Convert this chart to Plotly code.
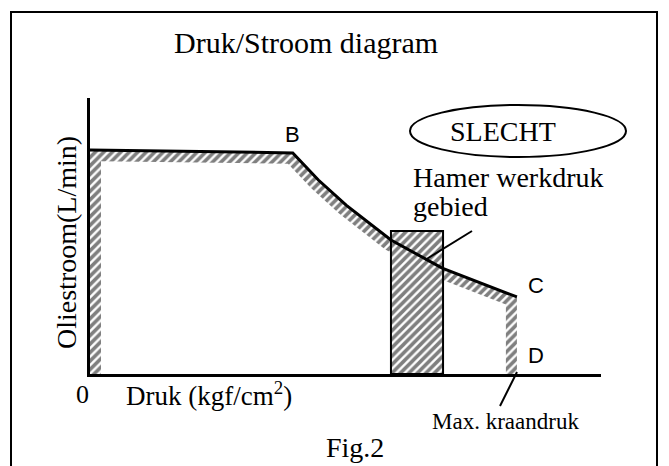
import numpy as np
import plotly.graph_objects as go

W, H = 669, 466

# Oil flow against pressure, both as a share of the maximum (A -> B -> C)
druk = [0.0, 47.5, 53.5, 60.0, 70.5, 82.5, 100.0]
stroom = [100.0, 98.7, 86.6, 75.4, 59.8, 47.3, 34.4]

# Working-pressure window of the hammer
hamer_druk = [70.5, 82.7]
hamer_stroom = 63.8

# Maximum crane pressure (point D on the pressure axis)
max_druk = 100.0

x_range = [0.0, 119.7]
y_range = [0.0, 123.2]

# plot area in page pixels (left, right, top, bottom)
PL, PR, PT, PB = 90, 601, 98, 374
sx = (PR - PL) / (x_range[1] - x_range[0])
sy = (PB - PT) / (y_range[1] - y_range[0])


def px(x, y):
    """page pixel -> paper coordinates"""
    return x / W, 1 - y / H


def inner_edge(xs, ys, t):
    """Offset an open polyline t pixels to its right-hand side (mitred)."""
    P = np.column_stack([np.asarray(xs) * sx, np.asarray(ys) * sy])
    segs = []
    for i in range(len(P) - 1):
        d = P[i + 1] - P[i]
        L = np.linalg.norm(d)
        d = d / L
        nrm = np.array([d[1], -d[0]])
        segs.append((P[i] + nrm * t, d, L))
    pts = [segs[0][0]]
    for (p1, d1, _), (p2, d2, _) in zip(segs[:-1], segs[1:]):
        a, _b = np.linalg.solve(np.array([d1, -d2]).T, p2 - p1)
        pts.append(p1 + a * d1)
    p, d, L = segs[-1]
    pts.append(p + d * L)
    pts = np.array(pts)
    return pts[:, 0] / sx, pts[:, 1] / sy


# hatched band under the flow curve, including the two vertical legs
outer_x = [0.0] + druk + [max_druk]
outer_y = [0.0] + stroom + [0.0]
in_x, in_y = inner_edge(outer_x, outer_y, 11)
band_x = list(outer_x) + list(in_x[::-1]) + [outer_x[0]]
band_y = list(outer_y) + list(in_y[::-1]) + [outer_y[0]]

hatch = dict(shape="/", fgcolor="black", bgcolor="white", size=6, solidity=0.6)

fig = go.Figure()
fig.add_trace(go.Scatter(
    x=band_x, y=band_y, mode="lines", fill="toself",
    fillpattern=hatch, line=dict(width=0, color="rgba(0,0,0,0)"),
    hoverinfo="skip", showlegend=False))

fig.add_trace(go.Scatter(
    x=[hamer_druk[0], hamer_druk[1], hamer_druk[1], hamer_druk[0], hamer_druk[0]],
    y=[0, 0, hamer_stroom, hamer_stroom, 0],
    mode="lines", fill="toself", fillpattern=hatch,
    line=dict(width=2, color="black"), hoverinfo="skip", showlegend=False))

fig.add_trace(go.Scatter(
    x=druk, y=stroom, mode="lines",
    line=dict(width=3, color="black"), hoverinfo="skip", showlegend=False))

serif = "Liberation Serif, Times New Roman, serif"
sans = "Liberation Sans, Arial, sans-serif"


def label(text, x, y, size, family=serif, xanchor="left", angle=0):
    X, Y = px(x, y)
    return dict(text=text, x=X, y=Y, xref="paper", yref="paper",
                xanchor=xanchor, yanchor="middle", showarrow=False,
                textangle=angle, font=dict(family=family, size=size, color="black"))


annotations = [
    label("Druk/Stroom diagram", 172, 42, 30),
    label("SLECHT", 503, 131, 28, xanchor="center"),
    label("Hamer werkdruk", 411, 177, 28),
    label("gebied", 411, 206, 28),
    label("0", 82, 394, 26, xanchor="center"),
    label("Druk (kgf/cm<sup>2</sup>)", 124, 394, 27),
    label("Max. kraandruk", 430, 421, 23),
    label("Fig.2", 355, 447, 28, xanchor="center"),
    label("Oliestroom(L/min)", 66, 243, 28, xanchor="center", angle=-90),
    label("B", 292, 134, 22, family=sans, xanchor="center"),
    label("C", 536, 285, 22, family=sans, xanchor="center"),
    label("D", 536, 355, 22, family=sans, xanchor="center"),
]


def line_shape(x0, y0, x1, y1, w=2):
    a0, b0 = px(x0, y0)
    a1, b1 = px(x1, y1)
    return dict(type="line", xref="paper", yref="paper", x0=a0, y0=b0, x1=a1, y1=b1,
                line=dict(color="black", width=w))


ex0, ey0 = px(410, 105)
ex1, ey1 = px(626, 157)
fx0, fy0 = px(11, 480)
fx1, fy1 = px(657, 12)
shapes = [
    dict(type="rect", xref="paper", yref="paper", x0=fx0, y0=fy0, x1=fx1, y1=fy1,
         line=dict(color="black", width=2)),
    dict(type="circle", xref="paper", yref="paper", x0=ex0, y0=ey0, x1=ex1, y1=ey1,
         line=dict(color="black", width=2)),
    line_shape(425, 260, 472, 231),
    line_shape(517, 372, 500, 406),
]

fig.update_layout(
    width=W, height=H,
    margin=dict(l=0, r=0, t=0, b=0),
    paper_bgcolor="white", plot_bgcolor="white",
    xaxis=dict(domain=[PL / W, PR / W], range=x_range, showline=True,
               linecolor="black", linewidth=2.5, showgrid=False, zeroline=False,
               showticklabels=False, ticks=""),
    yaxis=dict(domain=[1 - PB / H, 1 - PT / H], range=y_range, showline=True,
               linecolor="black", linewidth=2.5, showgrid=False, zeroline=False,
               showticklabels=False, ticks=""),
    annotations=annotations,
    shapes=shapes,
    showlegend=False,
)

fig.write_html("out.html")
